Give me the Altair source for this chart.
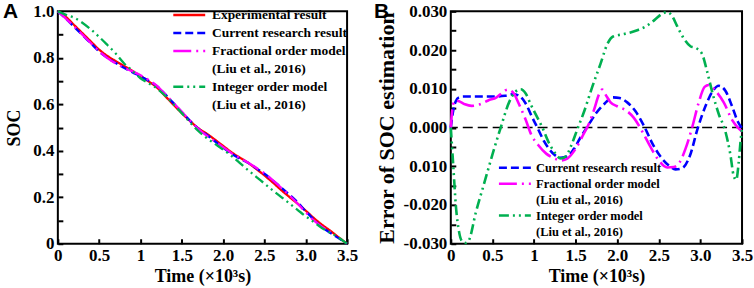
import json
import altair as alt
import pandas as pd

SERIF = "Liberation Serif"
SANS = "Liberation Sans"

# ---------------- data: panel A (SOC vs time, x10^3 s) ----------------
t_a = [0.0, 0.1, 0.2, 0.3, 0.4, 0.5, 0.6, 0.7, 0.8, 0.9, 1.0, 1.1, 1.2, 1.3, 1.4, 1.5, 1.6, 1.7,
       1.8, 1.9, 2.0, 2.1, 2.2, 2.3, 2.4, 2.5, 2.6, 2.7, 2.8, 2.9, 3.0, 3.1, 3.2, 3.3, 3.4, 3.5]
soc_exp = [1.000, 0.975, 0.940, 0.905, 0.870, 0.835, 0.808, 0.786, 0.765, 0.744, 0.722, 0.698,
           0.672, 0.635, 0.598, 0.562, 0.528, 0.497, 0.474, 0.448, 0.421, 0.394, 0.371, 0.349,
           0.322, 0.294, 0.264, 0.232, 0.202, 0.173, 0.142, 0.110, 0.081, 0.055, 0.027, 0.000]
soc_cur = [1.000, 0.967, 0.932, 0.897, 0.862, 0.827, 0.800, 0.778, 0.757, 0.738, 0.720, 0.701,
           0.678, 0.643, 0.605, 0.567, 0.529, 0.495, 0.469, 0.441, 0.413, 0.387, 0.366, 0.348,
           0.325, 0.301, 0.273, 0.243, 0.212, 0.179, 0.140, 0.103, 0.070, 0.046, 0.023, 0.000]
soc_frac = [1.000, 0.968, 0.934, 0.899, 0.863, 0.828, 0.799, 0.776, 0.758, 0.742, 0.725, 0.704,
            0.679, 0.643, 0.606, 0.568, 0.530, 0.494, 0.465, 0.441, 0.416, 0.390, 0.369, 0.350,
            0.327, 0.303, 0.274, 0.242, 0.209, 0.173, 0.135, 0.099, 0.072, 0.050, None, None]
soc_int = [1.000, 0.985, 0.972, 0.950, 0.922, 0.890, 0.855, 0.819, 0.777, 0.745, 0.712, 0.690,
           0.668, 0.637, 0.600, 0.562, 0.522, 0.485, 0.455, 0.430, 0.405, 0.378, 0.348, 0.317,
           0.288, 0.259, 0.230, 0.202, 0.174, 0.146, 0.118, 0.093, 0.067, 0.047, 0.026, 0.000]

# ---------------- data: panel B (error of SOC estimation) ----------------
t_cur_b = [0, 0.03, 0.06, 0.1, 0.15, 0.3, 0.5, 0.65, 0.75, 0.82, 0.9, 0.97, 1.04, 1.12, 1.22,
           1.32, 1.4, 1.48, 1.56, 1.65, 1.75, 1.85, 1.95, 2.03, 2.12, 2.22, 2.32, 2.42, 2.52,
           2.62, 2.7, 2.78, 2.87, 2.97, 3.07, 3.15, 3.22, 3.3, 3.38, 3.45, 3.5]
err_cur = [0, 0.0045, 0.0068, 0.0078, 0.008, 0.008, 0.008, 0.0082, 0.0086, 0.0082, 0.0062,
           0.003, 0.000, -0.0035, -0.0065, -0.0078, -0.0075, -0.0055, -0.0025, 0.0005, 0.0038,
           0.0062, 0.0078, 0.0076, 0.0065, 0.0042, 0.0005, -0.004, -0.0075, -0.0098, -0.0108,
           -0.0105, -0.0075, 0.000, 0.006, 0.0095, 0.0108, 0.0095, 0.0055, 0.0015, -0.0002]
t_frac_b = [0, 0.02, 0.05, 0.1, 0.17, 0.25, 0.35, 0.45, 0.55, 0.62, 0.68, 0.75, 0.82, 0.9, 0.97,
            1.05, 1.15, 1.25, 1.32, 1.4, 1.5, 1.6, 1.66, 1.72, 1.78, 1.82, 1.86, 1.92, 2.0, 2.1,
            2.2, 2.3, 2.4, 2.5, 2.6, 2.68, 2.75, 2.82, 2.9, 2.98, 3.05, 3.1, 3.18, 3.28, 3.38,
            3.45, 3.5]
err_frac = [0, 0.005, 0.007, 0.0068, 0.006, 0.0056, 0.006, 0.007, 0.0078, 0.009, 0.0098, 0.009,
            0.006, 0.002, -0.002, -0.0045, -0.0068, -0.008, -0.0085, -0.008, -0.0055, -0.0015,
            0.001, 0.0045, 0.0085, 0.0098, 0.0085, 0.0065, 0.0055, 0.0045, 0.0025, -0.001,
            -0.005, -0.0085, -0.0103, -0.0102, -0.009, -0.0055, 0.000, 0.0065, 0.0105, 0.011,
            0.0095, 0.0065, 0.002, 0.000, -0.001]
t_int_b = [0, 0.03, 0.06, 0.1, 0.14, 0.18, 0.22, 0.3, 0.4, 0.5, 0.6, 0.7, 0.78, 0.84, 0.9, 0.96,
           1.03, 1.1, 1.18, 1.25, 1.32, 1.38, 1.45, 1.52, 1.6, 1.7, 1.8, 1.88, 1.95, 2.05, 2.15,
           2.25, 2.35, 2.45, 2.55, 2.6, 2.66, 2.72, 2.8, 2.88, 2.95, 3.02, 3.08, 3.15, 3.22, 3.3,
           3.36, 3.4, 3.43, 3.46, 3.48, 3.5]
err_int = [0, -0.01, -0.02, -0.027, -0.0295, -0.0298, -0.029, -0.022, -0.0145, -0.007, 0.000,
           0.0065, 0.0093, 0.0099, 0.0088, 0.006, 0.003, 0.000, -0.004, -0.0065, -0.008, -0.0075,
           -0.0045, -0.0005, 0.004, 0.0105, 0.0165, 0.0215, 0.0235, 0.024, 0.0245, 0.0252, 0.0262,
           0.0278, 0.0295, 0.0298, 0.0288, 0.0262, 0.023, 0.021, 0.0205, 0.019, 0.0145, 0.0085,
           0.0035, -0.001, -0.007, -0.0125, -0.0135, -0.009, -0.004, 0.000]
zero_line = [0.0]

# ---------------- series, legend rows, styles, ticks ----------------
# data series (first line of each legend entry); citation lines are legend-only rows
S_EXP, S_CUR, S_FRAC, S_INT = ("Experimental result", "Current research result",
                               "Fractional order model", "Integer order model")
CITE1, CITE2 = "(Liu et al., 2016)", "(Liu et al., 2016) "
legend_rows_a = [S_EXP, S_CUR, S_FRAC, CITE1, S_INT, CITE2]
colors_a = ["#ff0000", "#0000ff", "#ff00ff", "transparent", "#00b050", "transparent"]
dashes_a = [[1, 0], [8, 4], [18, 5, 2, 5], [1, 0], [10, 4, 2, 4, 2, 4], [1, 0]]
legend_rows_b = legend_rows_a[1:]
colors_b = colors_a[1:]
dashes_b = dashes_a[1:]

x_ticks = [0, 0.5, 1, 1.5, 2, 2.5, 3, 3.5]
x_tick_labels = ["0", "0.5", "1", "1.5", "2.0", "2.5", "3.0", "3.5"]
ya_ticks = [0, 0.1, 0.2, 0.3, 0.4, 0.5, 0.6, 0.7, 0.8, 0.9, 1.0]
ya_tick_labels = ["0", "", "0.2", "", "0.4", "", "0.6", "", "0.8", "", "1.0"]
yb_ticks = [-0.03, -0.025, -0.02, -0.015, -0.01, -0.005, 0, 0.005, 0.01, 0.015, 0.02, 0.025, 0.03]
yb_tick_labels = ["-0.030", "", "-0.020", "", "0.010", "", "0.000", "", "0.010", "", "0.020", "",
                  "0.030"]


def label_expr(values, labels, k):
    keys = [round(v * k) for v in values]
    return f"{json.dumps(labels)}[indexof({json.dumps(keys)}, round(datum.value*{k}))]"


rows_a = []
for name, vals in zip([S_EXP, S_CUR, S_FRAC, S_INT], [soc_exp, soc_cur, soc_frac, soc_int]):
    for t, v in zip(t_a, vals):
        if v is not None:
            rows_a.append({"t": t, "v": v, "series": name})
df_a = pd.DataFrame(rows_a)

rows_b = []
for name, ts, vals in zip([S_CUR, S_FRAC, S_INT], [t_cur_b, t_frac_b, t_int_b],
                          [err_cur, err_frac, err_int]):
    for t, v in zip(ts, vals):
        rows_b.append({"t": t, "v": v, "series": name})
df_b = pd.DataFrame(rows_b)

AXIS_STYLE = dict(offset=-5, tickSize=5, tickWidth=2, tickColor="black", domain=False,
                  grid=False, labelFlush=False, labelOverlap=False, labelPadding=4,
                  labelFont=SERIF, labelFontSize=17, labelFontWeight="bold",
                  labelColor="black", titleFont=SERIF, titleFontWeight="bold",
                  titleColor="black")


def x_enc():
    return alt.X("t:Q", scale=alt.Scale(domain=[0, 3.5], nice=False, zero=False),
                 axis=alt.Axis(values=x_ticks, labelExpr=label_expr(x_ticks, x_tick_labels, 10),
                               title="Time (×10³s)", titleFontSize=18, titlePadding=4,
                               **AXIS_STYLE))


def legend(x, y, size, off, row_h):
    return alt.Legend(title=None, orient="none", legendX=x, legendY=y,
                      symbolType="M-16,0H16", symbolSize=4, symbolOffset=15,
                      symbolStrokeWidth=2.5, labelFont=SERIF, labelFontSize=size,
                      labelFontWeight="bold", labelColor="black", labelLimit=500,
                      labelOffset=off, labelBaseline="middle", clipHeight=row_h,
                      rowPadding=0, padding=0)


ya_axis = alt.Axis(values=ya_ticks, labelExpr=label_expr(ya_ticks, ya_tick_labels, 10),
                   title="SOC", titleFontSize=18, titlePadding=9, **AXIS_STYLE)
yb_axis = alt.Axis(values=yb_ticks, labelExpr=label_expr(yb_ticks, yb_tick_labels, 1000),
                   title="Error of SOC estimation", titleFontSize=22, titlePadding=5,
                   **AXIS_STYLE)

leg_a = legend(110, -5, 13.5, 16, 17.4)
lines_a = alt.Chart(df_a).mark_line(strokeWidth=2.3, interpolate="monotone").encode(
    x=x_enc(),
    y=alt.Y("v:Q", scale=alt.Scale(domain=[0, 1], nice=False), axis=ya_axis),
    color=alt.Color("series:N", scale=alt.Scale(domain=legend_rows_a, range=colors_a),
                    legend=leg_a),
    strokeDash=alt.StrokeDash("series:N", scale=alt.Scale(domain=legend_rows_a, range=dashes_a),
                              legend=leg_a),
)
chart_a = lines_a.properties(
    width=290, height=233,
    title=alt.TitleParams("A", anchor="start", frame="group", orient="top", offset=0,
                          dx=-55, dy=20, font=SANS, fontSize=21, fontWeight="bold",
                          color="black"),
)

yb_scale = alt.Scale(domain=[-0.03, 0.03], nice=False)
leg_b = legend(43, 149, 12.5, 15, 15.5)
zero_rule = alt.Chart(pd.DataFrame({"v": zero_line})).mark_rule(
    color="black", strokeDash=[10, 5], strokeWidth=1.6).encode(
    y=alt.Y("v:Q", scale=yb_scale, axis=yb_axis))
lines_b = alt.Chart(df_b).mark_line(strokeWidth=2.6, interpolate="monotone").encode(
    x=x_enc(),
    y=alt.Y("v:Q", scale=yb_scale, axis=yb_axis),
    color=alt.Color("series:N", scale=alt.Scale(domain=legend_rows_b, range=colors_b),
                    legend=leg_b),
    strokeDash=alt.StrokeDash("series:N", scale=alt.Scale(domain=legend_rows_b, range=dashes_b),
                              legend=leg_b),
)
chart_b = alt.layer(zero_rule, lines_b).properties(
    width=292, height=233,
    title=alt.TitleParams("B", anchor="start", frame="group", orient="top", offset=0,
                          dx=-77, dy=20, font=SANS, fontSize=21, fontWeight="bold",
                          color="black"),
)

chart = (
    alt.hconcat(chart_a, chart_b, spacing=14)
    .resolve_scale(color="independent", strokeDash="independent")
    .resolve_legend(color="independent", strokeDash="independent")
    .properties(padding={"left": 2, "top": 0, "right": 0, "bottom": 0})
    .configure_view(stroke="black", strokeWidth=2)
)

chart.save("out.html", embed_options={"renderer": "svg", "actions": False})
